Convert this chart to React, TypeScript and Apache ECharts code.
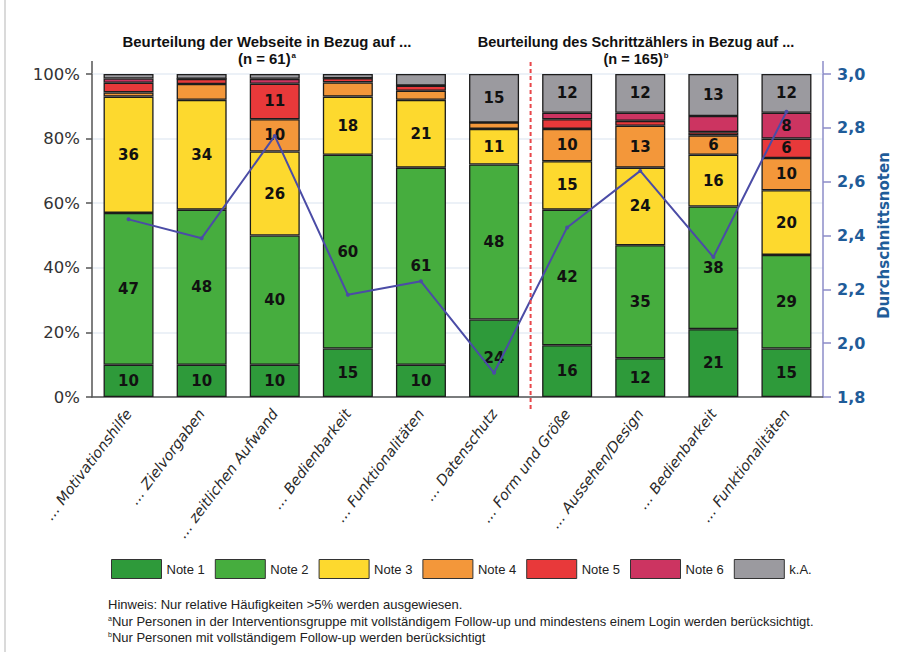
import React, { useEffect, useRef } from "react";
import * as echarts from "echarts";

// Rated aspects (website: first six, step counter: last four)
const categories = [
  "… Motivationshilfe",
  "… Zielvorgaben",
  "… zeitlichen Aufwand",
  "… Bedienbarkeit",
  "… Funktionalitäten",
  "… Datenschutz",
  "… Form und Größe",
  "… Aussehen/Design",
  "… Bedienbarkeit",
  "… Funktionalitäten",
];

// Relative frequencies (%) per grade
const note1 = [10, 10, 10, 15, 10, 24, 16, 12, 21, 15];
const note2 = [47, 48, 40, 60, 61, 48, 42, 35, 38, 29];
const note3 = [36, 34, 26, 18, 21, 11, 15, 24, 16, 20];
const note4 = [1.3, 4.9, 10, 4.4, 2.8, 2, 10, 13, 6, 10];
const note5 = [3, 1.6, 11, 1.3, 1.6, 0, 3, 1.5, 1, 6];
const note6 = [1.3, 0, 1.5, 0, 0, 0, 2, 2.5, 5, 8];
const noAnswer = [1.4, 1.5, 1.5, 1.3, 3.6, 15, 12, 12, 13, 12];

// Mean grade per aspect (right axis)
const meanGrades = [2.46, 2.39, 2.77, 2.18, 2.23, 1.89, 2.43, 2.64, 2.32, 2.86];

const seriesNames = ["Note 1", "Note 2", "Note 3", "Note 4", "Note 5", "Note 6", "k.A."];
const seriesValues = [note1, note2, note3, note4, note5, note6, noAnswer];
const seriesColors = ["#2e9a3a", "#46ad3e", "#fdd92e", "#f3973a", "#e8393a", "#cc3461", "#9b9a9f"];

const leftTicks = ["0%", "20%", "40%", "60%", "80%", "100%"];

const groupTitles = [
  { text: "Beurteilung der Webseite in Bezug auf ...", n: "(n = 61)", mark: "a" },
  { text: "Beurteilung des Schrittzählers in Bezug auf ...", n: "(n = 165)", mark: "b" },
];

const footnotes = [
  { mark: "", text: "Hinweis: Nur relative Häufigkeiten >5% werden ausgewiesen." },
  { mark: "a", text: "Nur Personen in der Interventionsgruppe mit vollständigem Follow-up und mindestens einem Login werden berücksichtigt." },
  { mark: "b", text: "Nur Personen mit vollständigem Follow-up werden berücksichtigt" },
];

const SANS = "'Liberation Sans', Arial, sans-serif";
const VERDANA = "'DejaVu Sans', Verdana, sans-serif";

// Width of a string in a given CSS font, used to condense text to a target width
function textWidth(text: string, font: string): number {
  const ctx = document.createElement("canvas").getContext("2d");
  if (!ctx) return text.length * 7;
  ctx.font = font;
  return ctx.measureText(text).width;
}

export default function App() {
  const ref = useRef<HTMLDivElement>(null);

  useEffect(() => {
    if (!ref.current) return;
    document.body.style.margin = "0";
    const chart = echarts.init(ref.current, null, { renderer: "svg" });

    const bars = seriesNames.map((name, i) => ({
      name,
      type: "bar",
      stack: "grades",
      yAxisIndex: 0,
      barWidth: 50,
      data: seriesValues[i],
      itemStyle: { color: seriesColors[i], borderColor: "#1c1c1c", borderWidth: 1.3 },
      label: {
        show: true,
        position: "inside",
        fontFamily: VERDANA,
        fontWeight: "bold",
        fontSize: 15,
        color: "#111",
        formatter: (p: any) => (p.value > 5 ? String(Math.round(p.value)) : ""),
      },
      emphasis: { disabled: true },
    }));

    // Group headings, condensed horizontally
    const titleFont = `bold 15px ${SANS}`;
    const titleLayout = [
      { cx: 267, width: 289 },
      { cx: 636, width: 317 },
    ];
    const titleGraphics: any[] = [];
    groupTitles.forEach((t, i) => {
      const sx = titleLayout[i].width / textWidth(t.text, titleFont);
      titleGraphics.push({
        type: "text",
        id: `title-${i}`,
        x: titleLayout[i].cx,
        y: 34,
        scaleX: sx,
        style: { text: t.text, font: titleFont, fill: "#111", align: "center" },
      });
      titleGraphics.push({
        type: "text",
        id: `title-n-${i}`,
        x: titleLayout[i].cx,
        y: 51,
        scaleX: sx,
        style: {
          text: `${t.n}{sup|${t.mark}}`,
          font: titleFont,
          fill: "#111",
          align: "center",
          rich: {
            sup: { fontSize: 8, fontFamily: SANS, fontWeight: "bold", fill: "#111", verticalAlign: "top", padding: [0, 0, 6, 1] },
          },
        },
      });
    });

    // Footnotes below the legend
    const noteFont = `13px ${SANS}`;
    const noteScale = 702 / textWidth(footnotes[1].text, noteFont);
    const noteGraphics = footnotes.map((f, i) => ({
      type: "text",
      id: `note-${i}`,
      x: 108,
      y: 598 + i * 16.5,
      scaleX: noteScale,
      style: {
        text: f.mark ? `{s|${f.mark}}${f.text}` : f.text,
        font: noteFont,
        fill: "#222",
        rich: {
          s: { fontSize: 7, fontFamily: SANS, fill: "#222", verticalAlign: "top", padding: [0, 0, 5, 0] },
        },
      },
    }));

    chart.setOption({
      animation: false,
      backgroundColor: "#ffffff",
      grid: { left: 92, right: 81, top: 74, bottom: 260, containLabel: false },
      legend: {
        left: 106,
        top: 554,
        itemWidth: 50,
        itemHeight: 19,
        itemGap: 10,
        icon: "rect",
        data: seriesNames,
        textStyle: { fontFamily: SANS, fontSize: 13, color: "#222" },
        itemStyle: { borderColor: "#333", borderWidth: 1 },
      },
      xAxis: {
        type: "category",
        data: categories,
        offset: 4,
        axisLine: { lineStyle: { color: "#555", width: 1.5 } },
        axisTick: { alignWithLabel: true, length: 7, lineStyle: { color: "#555", width: 1.5 } },
        axisLabel: {
          rotate: 53,
          interval: 0,
          margin: 10,
          fontFamily: VERDANA,
          fontStyle: "italic",
          fontSize: 14.5,
          color: "#2a2a2a",
        },
      },
      yAxis: [
        {
          type: "value",
          min: 0,
          max: 100,
          interval: 20,
          axisLine: { show: true, lineStyle: { color: "#555", width: 1.5 } },
          axisTick: { show: true, length: 6, lineStyle: { color: "#555", width: 1.5 } },
          axisLabel: {
            fontFamily: VERDANA,
            fontSize: 16.5,
            color: "#333",
            margin: 12,
            formatter: (v: number) => leftTicks[Math.round(v / 20)],
          },
          splitLine: { show: true, lineStyle: { color: "#e6edf4", width: 1.5 } },
        },
        {
          type: "value",
          min: 1.8,
          max: 3.0,
          interval: 0.2,
          position: "right",
          name: "Durchschnittsnoten",
          nameLocation: "middle",
          nameGap: 52,
          nameRotate: 90,
          nameTextStyle: { fontFamily: VERDANA, fontWeight: "bold", fontSize: 15, color: "#1f5c99" },
          axisLine: { show: true, lineStyle: { color: "#8c8cc8", width: 1.5 } },
          axisTick: { show: true, length: 8, lineStyle: { color: "#8c8cc8", width: 1.5 } },
          axisLabel: {
            fontFamily: VERDANA,
            fontWeight: "bold",
            fontSize: 16,
            color: "#1f5c99",
            margin: 14,
            formatter: (v: number) => v.toFixed(1).replace(".", ","),
          },
          splitLine: { show: false },
        },
      ],
      series: [
        ...bars,
        {
          name: "Durchschnittsnote",
          type: "line",
          yAxisIndex: 1,
          data: meanGrades,
          z: 10,
          symbol: "circle",
          symbolSize: 4,
          lineStyle: { color: "#4b4ca6", width: 2 },
          itemStyle: { color: "#4b4ca6" },
          emphasis: { disabled: true },
        },
      ],
      graphic: [
        { type: "line", id: "frame-left", shape: { x1: 5, y1: 0, x2: 5, y2: 652 }, style: { stroke: "#b5b5b5", lineWidth: 1 } },
        ...titleGraphics,
        ...noteGraphics,
      ],
    });

    // Dashed divider between the website and step counter groups,
    // plus the short axis-line overhang above the 100% mark
    const xa = chart.convertToPixel({ xAxisIndex: 0 }, 5) as number;
    const xb = chart.convertToPixel({ xAxisIndex: 0 }, 6) as number;
    const xMid = (xa + xb) / 2;
    const yTop = chart.convertToPixel({ yAxisIndex: 0 }, 100) as number;
    const xLeft = chart.convertToPixel({ xAxisIndex: 0 }, 0) as number;
    const xRight = chart.convertToPixel({ xAxisIndex: 0 }, 9) as number;
    const band = xb - xa;
    chart.setOption({
      graphic: [
        {
          type: "line",
          id: "divider",
          z: 20,
          shape: { x1: xMid, y1: yTop - 12, x2: xMid, y2: yTop + 336 },
          style: { stroke: "#e8474a", lineWidth: 2, lineDash: [4, 3] },
        },
        {
          type: "line",
          id: "left-overhang",
          shape: { x1: xLeft - band / 2, y1: yTop - 13, x2: xLeft - band / 2, y2: yTop },
          style: { stroke: "#555", lineWidth: 1.5 },
        },
        {
          type: "line",
          id: "right-overhang",
          shape: { x1: xRight + band / 2, y1: yTop - 13, x2: xRight + band / 2, y2: yTop },
          style: { stroke: "#8c8cc8", lineWidth: 1.5 },
        },
      ],
    });

    return () => chart.dispose();
  }, []);

  return (
    <div
      ref={ref}
      style={{ position: "fixed", left: 0, top: 0, width: 904, height: 657, background: "#fff" }}
    />
  );
}
